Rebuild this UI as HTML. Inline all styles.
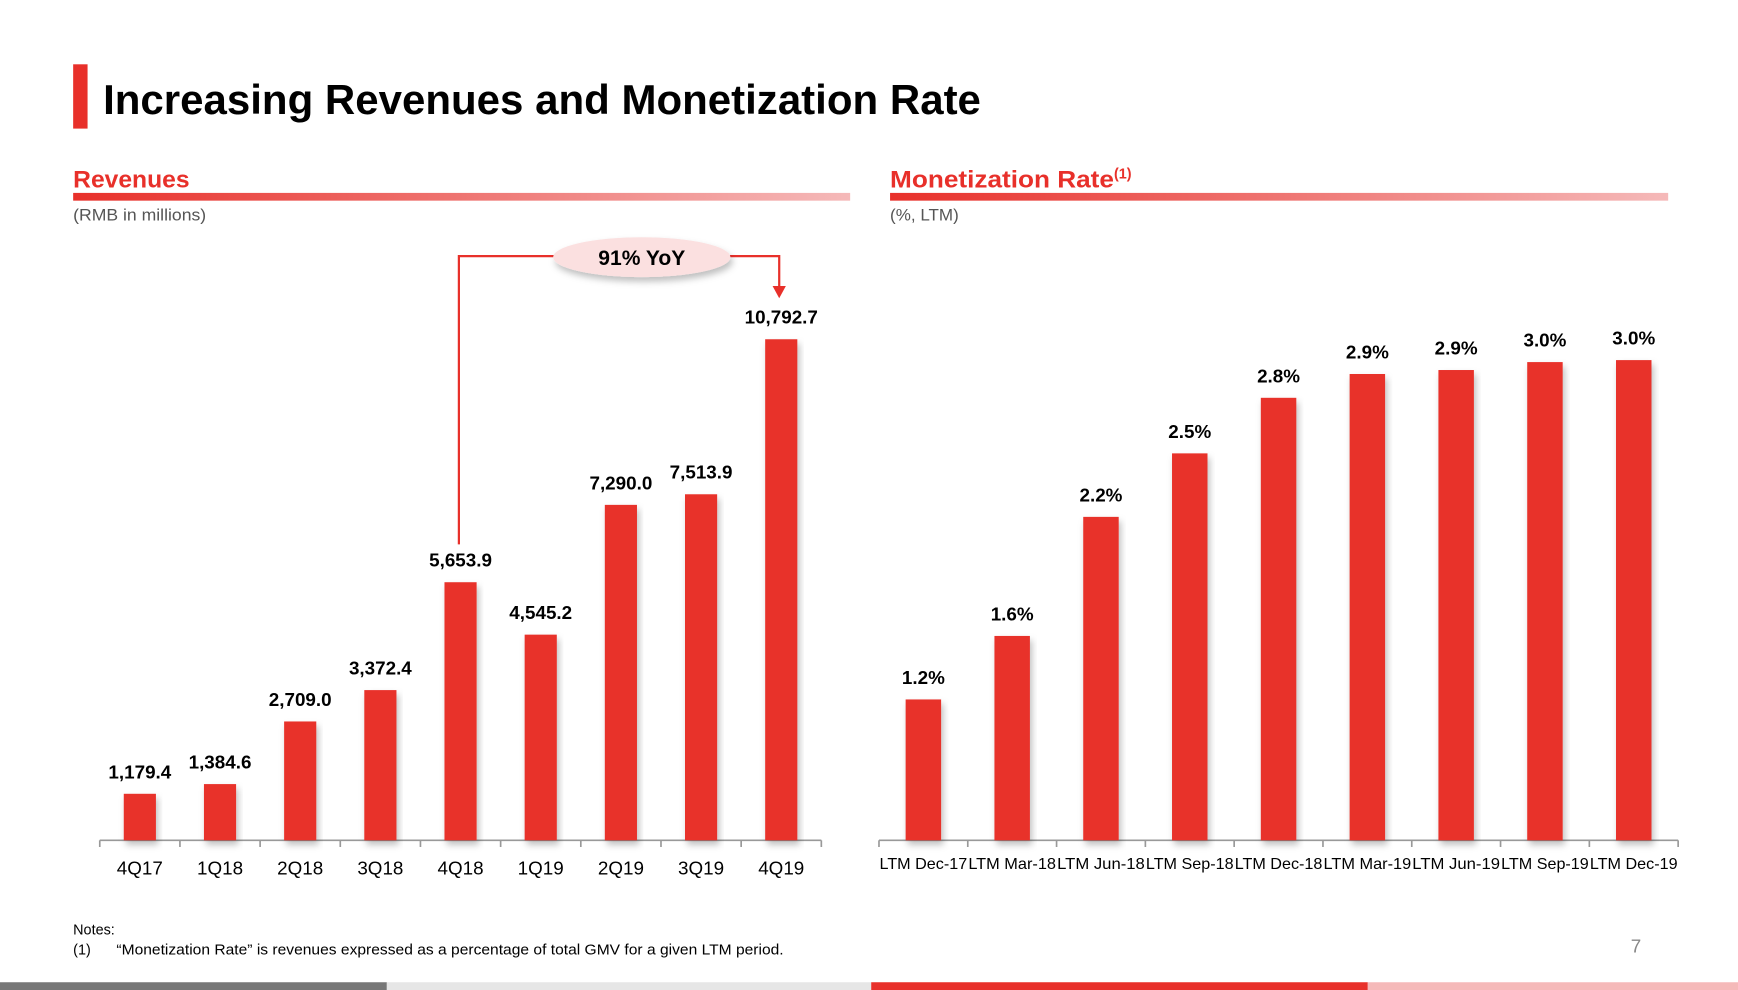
<!DOCTYPE html>
<html><head><meta charset="utf-8"><style>
html,body{margin:0;padding:0;background:#fff;width:1738px;height:990px;overflow:hidden}
svg{display:block;font-family:"Liberation Sans",sans-serif}
</style></head><body>
<svg id="s" width="1738" height="990" viewBox="0 0 1568 893" preserveAspectRatio="none" xmlns="http://www.w3.org/2000/svg">
<defs>
<linearGradient id="g" x1="0" x2="1"><stop offset="0" stop-color="#e8302a"/><stop offset="1" stop-color="#f5b9b9"/></linearGradient>
<filter id="sh" x="-20%" y="-50%" width="140%" height="220%"><feDropShadow dx="2" dy="4" stdDeviation="3" flood-color="#000" flood-opacity="0.25"/></filter>
</defs>
<rect x="66" y="58" width="13" height="58" fill="#e8302a"/>
<text x="93" y="103" font-size="38" font-weight="bold" fill="#000" textLength="792" lengthAdjust="spacingAndGlyphs">Increasing Revenues and Monetization Rate</text>
<text x="66" y="169" font-size="22" font-weight="bold" fill="#e8302a" textLength="105" lengthAdjust="spacingAndGlyphs">Revenues</text>
<rect x="66" y="174" width="701" height="7" fill="url(#g)"/>
<text x="66" y="199" font-size="15" fill="#555" textLength="120" lengthAdjust="spacingAndGlyphs">(RMB in millions)</text>
<text x="803" y="169" font-size="22" font-weight="bold" fill="#e8302a" textLength="202" lengthAdjust="spacingAndGlyphs">Monetization Rate</text>
<text x="1005" y="161" font-size="13" font-weight="bold" fill="#e8302a">(1)</text>
<rect x="803" y="174" width="702" height="7" fill="url(#g)"/>
<text x="803" y="199" font-size="15" fill="#555" textLength="62" lengthAdjust="spacingAndGlyphs">(%, LTM)</text>
<g id="left"></g>
<g id="right"></g>
<g>
<polyline points="414,491 414,231 500,231" fill="none" stroke="#e8302a" stroke-width="2"/>
<polyline points="658,231 703,231 703,260" fill="none" stroke="#e8302a" stroke-width="2"/>
<polygon points="697,258 709,258 703,269" fill="#e8302a"/>
<ellipse cx="579" cy="232" rx="80" ry="18" fill="#fbe0e0" filter="url(#sh)"/>
<text x="579" y="239" font-size="19" font-weight="bold" text-anchor="middle" fill="#000">91% YoY</text>
</g>
<text x="66" y="843" font-size="13" fill="#000">Notes:</text>
<text x="66" y="861" font-size="13" fill="#000">(1)</text>
<text x="105" y="861" font-size="13" fill="#000" textLength="602" lengthAdjust="spacingAndGlyphs">“Monetization Rate” is revenues expressed as a percentage of total GMV for a given LTM period.</text>
<text x="1476" y="859" font-size="17" fill="#888" text-anchor="middle">7</text>
<rect x="0" y="886" width="349" height="7" fill="#777"/>
<rect x="349" y="886" width="437" height="7" fill="#e6e6e6"/>
<rect x="786" y="886" width="448" height="7" fill="#e8302a"/>
<rect x="1234" y="886" width="334" height="7" fill="#f5b9b9"/>
</svg>
<script>
const revCategories=["4Q17","1Q18","2Q18","3Q18","4Q18","1Q19","2Q19","3Q19","4Q19"];
const revValues=[1179.4,1384.6,2709.0,3372.4,5653.9,4545.2,7290.0,7513.9,10792.7];
const revLabels=["1,179.4","1,384.6","2,709.0","3,372.4","5,653.9","4,545.2","7,290.0","7,513.9","10,792.7"];
const monCategories=["LTM Dec-17","LTM Mar-18","LTM Jun-18","LTM Sep-18","LTM Dec-18","LTM Mar-19","LTM Jun-19","LTM Sep-19","LTM Dec-19"];
const monValues=[1.28,1.6,2.2,2.52,2.8,2.92,2.94,2.98,2.99];
const monLabels=["1.2%","1.6%","2.2%","2.5%","2.8%","2.9%","2.9%","3.0%","3.0%"];
const NS="http://www.w3.org/2000/svg";
function mk(p,t,a){const e=document.createElementNS(NS,t);for(const k in a)e.setAttribute(k,a[k]);p.appendChild(e);return e;}
function chart(g,cats,vals,labs,x0,x1,base,vmin,k,bw,lfs,xfs,xly,prefix){
  const n=cats.length,step=(x1-x0)/n;
  const xs=i=>x0+step*(i+0.5);
  const ys=v=>base-(v-vmin)*k;
  const ax=mk(g,'line',{x1:x0,x2:x1,y1:base,y2:base,stroke:'#999','stroke-width':1.5});
  
  
  for(let i=0;i<=n;i++){mk(g,'line',{x1:x0+step*i,x2:x0+step*i,y1:base,y2:base+6,stroke:'#999','stroke-width':1.5});}
  cats.forEach((c,i)=>{
    const y=ys(vals[i]);
    const b=mk(g,'rect',{x:xs(i)-bw/2,y:y,width:bw,height:base-y,fill:'#e8302a',filter:'url(#sh)'});
    
    
    const t=mk(g,'text',{x:xs(i),y:y-14,'font-size':lfs,'font-weight':'bold','text-anchor':'middle'});
    t.textContent=labs[i];
    
    
    const l=mk(g,'text',{x:xs(i),y:xly,'font-size':xfs,'text-anchor':'middle',fill:'#000'});
    if(prefix==='monetization'){l.setAttribute('textLength',step-1);l.setAttribute('lengthAdjust','spacingAndGlyphs');}
    l.textContent=c;
    
    
  });
}
chart(document.getElementById('left'),revCategories,revValues,revLabels,90,741,758,195,0.04265,29,17,17,789,'revenue');
chart(document.getElementById('right'),monCategories,monValues,monLabels,793,1514,758,0.57,179,32,17,14.5,784,'monetization');
</script>
</body></html>
